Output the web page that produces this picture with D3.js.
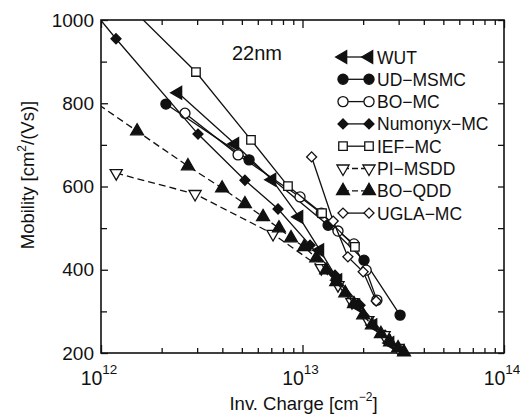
<!DOCTYPE html>
<html>
<head>
<meta charset="utf-8">
<script src="https://cdn.jsdelivr.net/npm/d3@7"></script>
<style>
  body { margin: 0; background: #fff; }
  svg { display: block; font-family: "Liberation Sans", Arial, Helvetica, sans-serif; }
</style>
</head>
<body>
<div id="chart"></div>
<script>
// values (x: inversion charge in cm^-2, y: mobility in cm^2/Vs)
const wutX = [2.41e12, 4.62e12, 7.06e12, 9.61e12, 1.22e13, 1.50e13, 1.84e13, 2.24e13, 2.72e13];
const wutY = [825, 702, 616, 527, 447, 375, 315, 267, 224];

const udX = [2.10e12, 5.43e12, 1.34e13, 2.02e13, 3.05e13];
const udY = [798, 664, 507, 423, 291];

const boMcX = [2.61e12, 4.79e12, 9.72e12, 1.24e13, 1.50e13, 1.80e13, 2.07e13, 2.34e13];
const boMcY = [776, 676, 575, 536, 493, 462, 399, 327];

const numX = [8.9e11, 1.187e12, 3.03e12, 5.18e12, 7.56e12, 1.09e13, 1.45e13, 1.93e13, 2.57e13];
const numY = [1029, 955, 726, 615, 546, 459, 387, 315, 243];

const iefX = [1.41e12, 2.96e12, 5.55e12, 8.47e12, 1.25e13, 1.82e13];
const iefY = [1029, 875, 712, 601, 536, 455];

const piX = [1.19e12, 2.93e12, 7.14e12, 1.24e13, 1.50e13, 1.76e13, 2.11e13, 2.54e13, 2.98e13];
const piY = [632, 582, 486, 404, 363, 322, 279, 243, 212];

const boQddX = [8.82e11, 1.51e12, 2.70e12, 3.99e12, 5.18e12, 6.37e12, 7.64e12, 8.77e12, 1.02e13, 1.17e13,
  1.31e13, 1.47e13, 1.63e13, 1.80e13, 2.00e13, 2.21e13, 2.45e13, 2.72e13, 2.98e13, 3.19e13];
const boQddY = [811, 733, 649, 596, 558, 527, 500, 476, 455, 428,
  399, 371, 344, 318, 291, 267, 246, 226, 212, 202];

const uglaX = [1.11e13, 1.42e13, 1.68e13, 2.00e13, 2.32e13];
const uglaY = [671, 517, 431, 395, 325];

const seriesNames = ['WUT', 'UD\u2212MSMC', 'BO\u2212MC', 'Numonyx\u2212MC', 'IEF\u2212MC', 'PI\u2212MSDD', 'BO\u2212QDD', 'UGLA\u2212MC'];
const xMajorTicks = [1e12, 1e13, 1e14];
const xTickExponents = ['12', '13', '14'];
const yTicks = [200, 400, 600, 800, 1000];
const yMinorTicks = [300, 500, 700, 900];

const series = [
  { name: seriesNames[0], xs: wutX, ys: wutY, shape: 'triLeft', filled: true, dashed: false },
  { name: seriesNames[1], xs: udX, ys: udY, shape: 'circle', filled: true, dashed: false },
  { name: seriesNames[2], xs: boMcX, ys: boMcY, shape: 'circle', filled: false, dashed: false },
  { name: seriesNames[3], xs: numX, ys: numY, shape: 'diamond', filled: true, dashed: false },
  { name: seriesNames[4], xs: iefX, ys: iefY, shape: 'square', filled: false, dashed: false },
  { name: seriesNames[5], xs: piX, ys: piY, shape: 'triDown', filled: false, dashed: true },
  { name: seriesNames[6], xs: boQddX, ys: boQddY, shape: 'triUp', filled: true, dashed: true },
  { name: seriesNames[7], xs: uglaX, ys: uglaY, shape: 'diamond', filled: false, dashed: false }
];

const W = 520, H = 418;
const plot = { left: 101, right: 504, top: 20, bottom: 353 };

const svg = d3.select('#chart').append('svg').attr('width', W).attr('height', H);

const x = d3.scaleLog().domain([1e12, 1e14]).range([plot.left, plot.right]);
const y = d3.scaleLinear().domain([200, 1000]).range([plot.bottom, plot.top]);

svg.append('clipPath').attr('id', 'clip')
  .append('rect')
  .attr('x', plot.left).attr('y', plot.top)
  .attr('width', plot.right - plot.left).attr('height', plot.bottom - plot.top);

// minor decade ticks
const xMinorTicks = [];
[1e12, 1e13].forEach(d => { for (let k = 2; k <= 9; k++) xMinorTicks.push(d * k); });

function styleAxis(g) {
  g.select('.domain').remove();
  g.selectAll('line').attr('stroke', '#111').attr('stroke-width', 1.3);
}

svg.append('g').attr('transform', `translate(0,${plot.bottom})`)
  .call(d3.axisBottom(x).tickValues(xMajorTicks).tickSize(-8).tickFormat('')).call(styleAxis);
svg.append('g').attr('transform', `translate(0,${plot.bottom})`)
  .call(d3.axisBottom(x).tickValues(xMinorTicks).tickSize(-5).tickFormat('')).call(styleAxis);
svg.append('g').attr('transform', `translate(0,${plot.top})`)
  .call(d3.axisTop(x).tickValues(xMajorTicks).tickSize(-8).tickFormat('')).call(styleAxis);
svg.append('g').attr('transform', `translate(0,${plot.top})`)
  .call(d3.axisTop(x).tickValues(xMinorTicks).tickSize(-5).tickFormat('')).call(styleAxis);

const yAxisL = svg.append('g').attr('transform', `translate(${plot.left},0)`)
  .call(d3.axisLeft(y).tickValues(yTicks).tickSize(-7).tickPadding(7).tickFormat(d3.format('d')));
yAxisL.call(styleAxis);
yAxisL.selectAll('text').attr('font-size', 19).attr('fill', '#111').attr('font-family', null);
svg.append('g').attr('transform', `translate(${plot.left},0)`)
  .call(d3.axisLeft(y).tickValues(yMinorTicks).tickSize(-6).tickFormat('')).call(styleAxis);
svg.append('g').attr('transform', `translate(${plot.right},0)`)
  .call(d3.axisRight(y).tickValues(yTicks.concat(yMinorTicks)).tickSize(-6).tickFormat('')).call(styleAxis);

// x tick labels 10^n
xMajorTicks.forEach((t, i) => {
  const lab = svg.append('text')
    .attr('x', x(t) - 2).attr('y', 385)
    .attr('text-anchor', 'middle').attr('font-size', 19.5).attr('fill', '#111');
  lab.append('tspan').text('10');
  lab.append('tspan').attr('dy', -11).attr('font-size', 13.5).text(xTickExponents[i]);
});

// frame
svg.append('rect')
  .attr('x', plot.left).attr('y', plot.top)
  .attr('width', plot.right - plot.left).attr('height', plot.bottom - plot.top)
  .attr('fill', 'none').attr('stroke', '#111').attr('stroke-width', 1.6);

// axis titles
const xt = svg.append('text').attr('x', (plot.left + plot.right) / 2 + 1).attr('y', 410)
  .attr('text-anchor', 'middle').attr('font-size', 18.5).attr('fill', '#111');
xt.append('tspan').text('Inv. Charge [cm');
xt.append('tspan').attr('dy', -9).attr('font-size', 12).text('\u22122');
xt.append('tspan').attr('dy', 9).text(']');

const yt = svg.append('text').attr('transform', 'translate(34,175) rotate(-90)')
  .attr('text-anchor', 'middle').attr('font-size', 18.5).attr('fill', '#111');
yt.append('tspan').text('Mobility [cm');
yt.append('tspan').attr('dy', -8).attr('font-size', 12).text('2');
yt.append('tspan').attr('dy', 8).text('/(Vs)]');

svg.append('text').attr('x', 232).attr('y', 60)
  .attr('font-size', 20).attr('fill', '#111').text('22nm');

// markers
const shapes = {
  circle: { type: d3.symbolCircle, size: 80, rot: 0 },
  square: { type: d3.symbolSquare, size: 72, rot: 0 },
  diamond: { type: d3.symbolSquare, size: 50, rot: 45 },
  triUp: { type: d3.symbolTriangle, size: 72, rot: 0 },
  triDown: { type: d3.symbolTriangle, size: 64, rot: 180 },
  triLeft: { type: d3.symbolTriangle, size: 70, rot: -90 }
};

function drawMarker(g, s, cx, cy) {
  const sh = shapes[s.shape];
  g.append('path')
    .attr('d', d3.symbol().type(sh.type).size(sh.size)())
    .attr('transform', `translate(${cx},${cy}) rotate(${sh.rot})`)
    .attr('fill', s.filled ? '#111' : '#fff')
    .attr('stroke', '#111').attr('stroke-width', 1.3);
}

const line = d3.line().x(d => x(d[0])).y(d => y(d[1]));

series.forEach(s => {
  const pts = s.xs.map((v, i) => [v, s.ys[i]]);
  svg.append('path')
    .datum(pts)
    .attr('clip-path', 'url(#clip)')
    .attr('fill', 'none')
    .attr('stroke', '#111')
    .attr('stroke-width', 1.3)
    .attr('stroke-dasharray', s.dashed ? '7,4' : null)
    .attr('d', line);
  const mg = svg.append('g');
  pts.filter(p => p[0] >= 1e12 && p[1] <= 1000)
    .forEach(p => drawMarker(mg, s, x(p[0]), y(p[1])));
});

// legend
const legend = svg.append('g').attr('transform', 'translate(343,57)');
series.forEach((s, i) => {
  const row = legend.append('g').attr('transform', `translate(0,${i * 22.3})`);
  row.append('line').attr('x1', 0).attr('x2', 26).attr('y1', 0).attr('y2', 0)
    .attr('stroke', '#111').attr('stroke-width', 1.3)
    .attr('stroke-dasharray', s.dashed ? '6,3' : null);
  drawMarker(row, s, 0, 0);
  drawMarker(row, s, 26, 0);
  row.append('text').attr('x', 34).attr('y', 6.5)
    .attr('font-size', 17.5).attr('fill', '#111').text(s.name);
});
</script>
</body>
</html>
